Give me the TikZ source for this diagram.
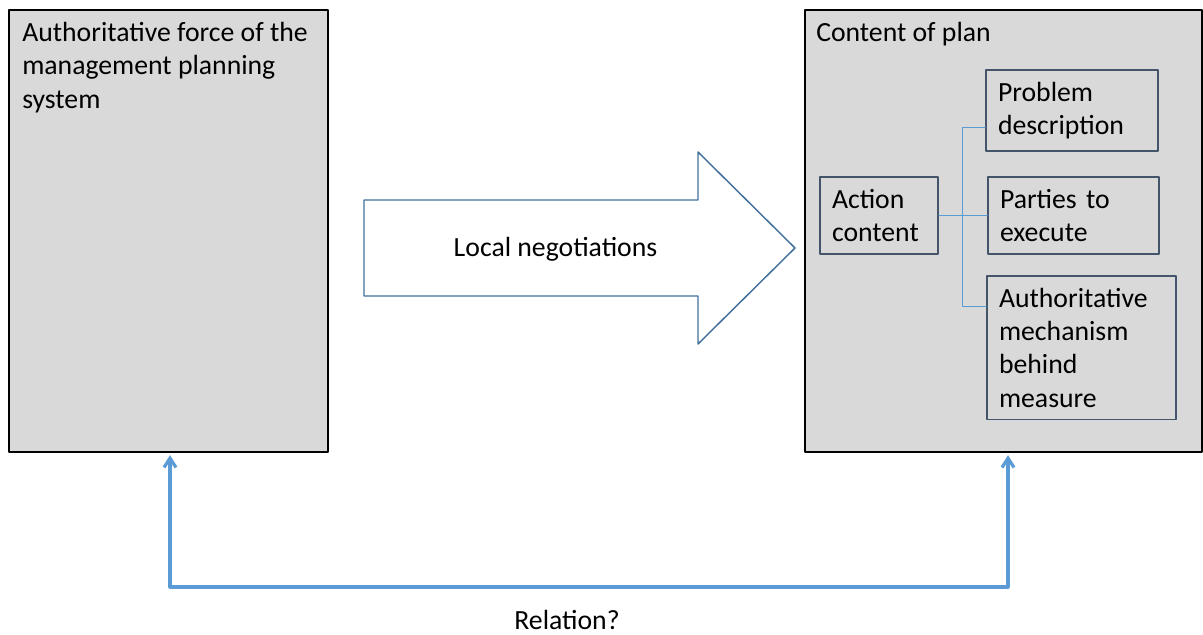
\documentclass[tikz,border=0pt]{standalone}
\usepackage{fontspec}
\setmainfont{Carlito}
\usetikzlibrary{arrows.meta}
\definecolor{boxgray}{HTML}{D9D9D9}
\definecolor{slate}{HTML}{44546A}
\definecolor{lineblue}{HTML}{5B9BD5}
\definecolor{arrowblue}{HTML}{41719C}

\begin{document}
\begin{tikzpicture}[line cap=round,line join=round,x=0.75pt,y=-0.75pt,
  font=\fontsize{20.8}{25}\selectfont,
  outerbox/.style={draw=black,line width=0.8pt,fill=boxgray,inner sep=0pt},
  innerbox/.style={draw=slate,line width=1.1pt,align=left,inner sep=9pt},
  title/.style={anchor=north west,inner sep=0pt,align=left},
  branch/.style={draw=lineblue,line width=0.7pt},
  relation/.style={draw=lineblue,line width=2.4pt,{Straight Barb[length=7pt,width=9pt]}-{Straight Barb[length=7pt,width=9pt]}}]
\useasboundingbox (0,0) rectangle (1203,635);
% the two big panels
\node [outerbox,minimum width=239.25pt,minimum height=331.5pt] (auth) at (168.5,231) {};
\node [outerbox,minimum width=297.75pt,minimum height=331.5pt] (plan) at (1003.5,231) {};
\node [title] (authtxt) at (22,22) {Authoritative force of the\\management planning\\system};
\node [title] (plantxt) at (816,22) {Content of plan};
% broad arrow
\draw [draw=arrowblue,line width=1.1pt,fill=white] (364,200) -- (698,200) -- (698,152) -- (795,248) -- (698,344) -- (698,296) -- (364,296) -- cycle;
\node (nego) at (555.5,249) {Local negotiations};
% parts of the plan
\node [innerbox,text width=70.5pt,minimum height=57.75pt] (action) at (879,215.5) {Action\\content};
\node [innerbox,text width=111pt,minimum height=57.75pt] (problem) at (1072,110.5) {Problem\\description};
\node [innerbox,text width=110.25pt,minimum height=57.75pt] (parties) at (1073.5,215.5) {Parties to\\execute};
\node [innerbox,text width=123.75pt,minimum height=107.25pt] (mech) at (1081.5,347.5) {Authoritative\\mechanism\\behind\\measure};
\coordinate (pj) at (962,127);
\coordinate (mj) at (962,306);
\draw [branch] (action.east) -- (parties.west);
\draw [branch] (problem.west |- pj) -- (pj) -- (mj) -- (mech.west |- mj);
% relation between the panels
\coordinate (lo) at (170,587);
\coordinate (ro) at (1008,587);
\draw [relation,shorten <=2pt,shorten >=2pt] (auth.south -| lo) -- (lo) -- (ro) -- (plan.south -| ro);
\node (rel) at (567,620) {Relation?};
\end{tikzpicture}
\end{document}
